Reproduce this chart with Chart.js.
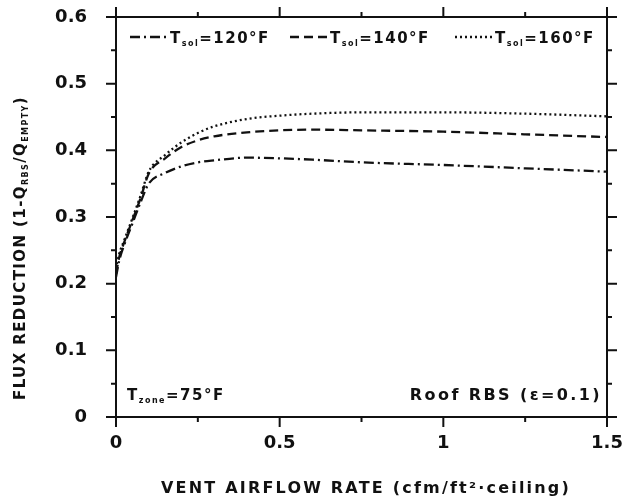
<!DOCTYPE html>
<html>
<head>
<meta charset="utf-8">
<script src="https://cdn.jsdelivr.net/npm/chart.js@4.4.0/dist/chart.umd.min.js"></script>
<style>
  body { margin: 0; background: #fff; }
</style>
</head>
<body>
<canvas id="chart" width="626" height="497"></canvas>
<script>
// vent airflow rate, cfm/ft2 ceiling
const flow = [0, 0.01, 0.025, 0.05, 0.075, 0.1, 0.15, 0.2, 0.25, 0.3, 0.4, 0.5, 0.6, 0.75, 1.0, 1.25, 1.5];
// flux reduction for each sol-air temperature
const red120 = [0.21, 0.235, 0.258, 0.29, 0.322, 0.35, 0.366, 0.376, 0.382, 0.385, 0.389, 0.388, 0.386, 0.382, 0.378, 0.373, 0.368];
const red140 = [0.215, 0.24, 0.262, 0.295, 0.328, 0.365, 0.388, 0.405, 0.415, 0.421, 0.427, 0.43, 0.431, 0.43, 0.428, 0.424, 0.42];
const red160 = [0.222, 0.245, 0.265, 0.298, 0.332, 0.368, 0.393, 0.412, 0.426, 0.436, 0.447, 0.452, 0.455, 0.457, 0.457, 0.455, 0.451];

const xMajor = [0, 0.5, 1, 1.5];
const xMinor = [0.25, 0.75, 1.25];
const yMajor = [0, 0.1, 0.2, 0.3, 0.4, 0.5, 0.6];
const yMinor = [0.05, 0.15, 0.25, 0.35, 0.45, 0.55];

const ink = '#111';
const FONT = '"DejaVu Sans", sans-serif';

function pts(ys) {
    return flow.map((x, i) => ({x: x, y: ys[i]}));
}

// text with subscripts, parts = [text, isSub]
function richText(ctx, parts, x, y, align, size, spacing) {
    ctx.save();
    ctx.letterSpacing = spacing + 'px';
    ctx.textBaseline = 'alphabetic';
    ctx.textAlign = 'left';
    let w = 0;
    parts.forEach(p => {
        ctx.font = 'bold ' + (p[1] ? Math.round(size * 0.5) : size) + 'px ' + FONT;
        w += ctx.measureText(p[0]).width;
    });
    let cx = align == 'center' ? x - w / 2 : (align == 'right' ? x - w : x);
    parts.forEach(p => {
        ctx.font = 'bold ' + (p[1] ? Math.round(size * 0.5) : size) + 'px ' + FONT;
        ctx.fillText(p[0], cx, y + (p[1] ? size * 0.22 : 0));
        cx += ctx.measureText(p[0]).width;
    });
    ctx.restore();
    return w;
}

const frame = {
    id: 'frame',
    afterDraw(chart) {
        const ctx = chart.ctx;
        const a = chart.chartArea;
        const xs = chart.scales.x, ys = chart.scales.y;
        ctx.save();
        ctx.strokeStyle = ink;
        ctx.lineWidth = 2;
        ctx.beginPath();
        // box, lines run a little past the corners
        ctx.moveTo(a.left - 10, a.top); ctx.lineTo(a.right + 10, a.top);
        ctx.moveTo(a.left - 10, a.bottom); ctx.lineTo(a.right + 10, a.bottom);
        ctx.moveTo(a.left, a.top - 10); ctx.lineTo(a.left, a.bottom + 10);
        ctx.moveTo(a.right, a.top - 10); ctx.lineTo(a.right, a.bottom + 10);
        xMajor.concat(xMinor).forEach(v => {
            const px = xs.getPixelForValue(v);
            const len = xMajor.includes(v) ? 10 : 5;
            ctx.moveTo(px, a.bottom); ctx.lineTo(px, a.bottom + len);
            ctx.moveTo(px, a.top); ctx.lineTo(px, a.top - len);
        });
        yMajor.concat(yMinor).forEach(v => {
            const py = ys.getPixelForValue(v);
            const len = yMajor.includes(v) ? 10 : 5;
            ctx.moveTo(a.left, py); ctx.lineTo(a.left - len, py);
            ctx.moveTo(a.right, py); ctx.lineTo(a.right + len, py);
        });
        ctx.stroke();

        ctx.fillStyle = ink;
        // legend inside the top of the plot
        const ds = chart.data.datasets;
        const legendX = [130, 290, 455];
        const ly = 37;
        ds.forEach((d, i) => {
            ctx.save();
            ctx.lineWidth = 2.3;
            ctx.setLineDash(d.borderDash);
            ctx.beginPath();
            ctx.moveTo(legendX[i], ly);
            ctx.lineTo(legendX[i] + 38, ly);
            ctx.stroke();
            ctx.restore();
            richText(ctx, [['T', 0], ['sol', 1], ['=' + d.label + '\u00b0F', 0]], legendX[i] + 40, ly + 6, 'left', 15, 1.5);
        });

        // notes at the bottom of the plot
        richText(ctx, [['T', 0], ['zone', 1], ['=75\u00b0F', 0]], a.left + 11, a.bottom - 17, 'left', 15, 1.5);
        richText(ctx, [['Roof RBS (\u03b5=0.1)', 0]], a.right - 5, a.bottom - 17, 'right', 16, 2.4);

        // axis titles
        richText(ctx, [['VENT AIRFLOW RATE (cfm/ft\u00b2\u00b7ceiling)', 0]], 366, 493, 'center', 16, 2.2);
        ctx.save();
        ctx.translate(25, 248);
        ctx.rotate(-Math.PI / 2);
        richText(ctx, [['FLUX REDUCTION (1-Q', 0], ['RBS', 1], ['/Q', 0], ['EMPTY', 1], [')', 0]], 0, 0, 'center', 15, 1.4);
        ctx.restore();
        ctx.restore();
    }
};

const tickFont = {family: FONT, size: 18, weight: 'bold'};

new Chart(document.getElementById('chart').getContext('2d'), {
    type: 'line',
    data: {
        datasets: [
            {label: '120', data: pts(red120), borderDash: [10, 4, 2, 4]},
            {label: '140', data: pts(red140), borderDash: [9, 5]},
            {label: '160', data: pts(red160), borderDash: [2, 3]}
        ].map(d => Object.assign(d, {
            borderColor: ink,
            borderWidth: 2.3,
            pointRadius: 0,
            fill: false,
            cubicInterpolationMode: 'monotone'
        }))
    },
    options: {
        responsive: false,
        animation: false,
        layout: {padding: {top: 17, right: 19, left: 0, bottom: 0}},
        plugins: {legend: {display: false}, tooltip: {enabled: false}},
        scales: {
            x: {
                type: 'linear',
                min: 0,
                max: 1.5,
                afterFit: s => { s.height = 80; s.paddingLeft = 0; s.paddingRight = 0; },
                grid: {display: false},
                border: {display: false},
                ticks: {stepSize: 0.5, font: tickFont, color: ink, padding: 8, maxRotation: 0,
                        callback: v => String(v)}
            },
            y: {
                min: 0,
                max: 0.6,
                afterFit: s => { s.width = 116; s.paddingTop = 0; s.paddingBottom = 0; },
                grid: {display: false},
                border: {display: false},
                ticks: {stepSize: 0.1, font: tickFont, color: ink, padding: 21}
            }
        }
    },
    plugins: [frame]
});
</script>
</body>
</html>
